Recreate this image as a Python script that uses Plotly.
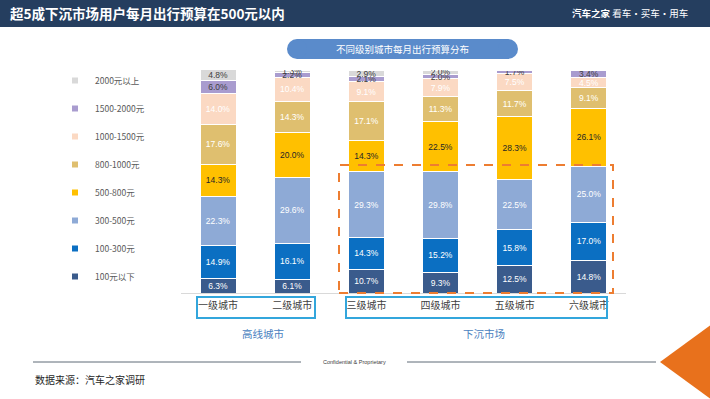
import plotly.graph_objects as go

cities = ["一级城市", "二级城市", "三级城市", "四级城市", "五级城市", "六级城市"]
series_names = ["100元以下", "100-300元", "300-500元", "500-800元",
                "800-1000元", "1000-1500元", "1500-2000元", "2000元以上"]
v_100 = [6.3, 6.1, 10.7, 9.3, 12.5, 14.8]
v_300 = [14.9, 16.1, 14.3, 15.2, 15.8, 17.0]
v_500 = [22.3, 29.6, 29.3, 29.8, 22.5, 25.0]
v_800 = [14.3, 20.0, 14.3, 22.5, 28.3, 26.1]
v_1000 = [17.6, 14.3, 17.1, 11.3, 11.7, 9.1]
v_1500 = [14.0, 10.4, 9.1, 7.9, 7.5, 4.5]
v_2000 = [6.0, 2.2, 2.1, 2.0, 1.7, 3.4]
v_over = [4.8, 1.3, 2.9, 2.0, 0.0, 0.0]
values = [v_100, v_300, v_500, v_800, v_1000, v_1500, v_2000, v_over]

colors = ["#3a5b8c", "#0b6fc2", "#8eaad6", "#ffc000",
          "#dfbf6f", "#fbd9c3", "#a99ccf", "#d9d9d9"]
text_colors = ["white", "white", "white", "#262626",
               "white", "white", "#404040", "#404040"]

# pixel geometry of plot area
L, R, T, B = 181, 626, 70, 293
W, H = R - L, B - T
def px(x):
    return (x - L) / W
def py(y):
    return (B - y) / H

fig = go.Figure()
for name, vals, c, tc in zip(series_names, values, colors, text_colors):
    fig.add_trace(go.Bar(
        x=cities, y=vals, name=name, marker=dict(color=c, line=dict(color="white", width=1)),
        text=[f"{v:.1f}%" for v in vals], textposition="inside", insidetextanchor="middle",
        textangle=0, constraintext="none",
        textfont=dict(color=tc, size=8.5, family="Liberation Sans"),
        showlegend=False, hoverinfo="skip"))
# legend entries (small squares), top entry = highest budget
for i in range(len(series_names) - 1, -1, -1):
    fig.add_trace(go.Scatter(
        x=[None], y=[None], mode="markers", name=series_names[i], legendgroup=f"g{i}",
        marker=dict(symbol="square", size=6, color=colors[i])))

shapes = []
# title bar
shapes.append(dict(type="rect", xref="paper", yref="paper", x0=px(0), x1=px(710),
                   y0=py(27), y1=py(0), fillcolor="#253e5f", line=dict(width=0), layer="below"))
# subtitle pill
shapes.append(dict(type="rect", xref="paper", yref="paper", x0=px(297), x1=px(508),
                   y0=py(59), y1=py(39), fillcolor="#5a8bcb", line=dict(width=0)))
for cx in (297, 508):
    shapes.append(dict(type="circle", xref="paper", yref="paper", x0=px(cx - 10), x1=px(cx + 10),
                       y0=py(59), y1=py(39), fillcolor="#5a8bcb", line=dict(width=0)))
# category boxes
for x0, x1 in ((197, 315), (346, 607)):
    shapes.append(dict(type="rect", xref="paper", yref="paper", x0=px(x0), x1=px(x1),
                       y0=py(318), y1=py(297), line=dict(color="#33a6dc", width=2)))
# dashed highlight
shapes.append(dict(type="rect", xref="paper", yref="paper", x0=px(339), x1=px(613),
                   y0=py(293), y1=py(165), line=dict(color="#ed7d31", width=2, dash="dash")))
# footer lines
for x0, x1 in ((33, 301), (407, 656)):
    shapes.append(dict(type="line", xref="paper", yref="paper", x0=px(x0), x1=px(x1),
                       y0=py(362), y1=py(362), line=dict(color="#5f6b77", width=1)))
# orange triangle
shapes.append(dict(type="path", xref="paper", yref="paper",
                   path=f"M {px(660)} {py(362)} L {px(712)} {py(324)} L {px(712)} {py(400)} Z",
                   fillcolor="#e8711c", line=dict(width=0)))

cjk = "Noto Sans CJK SC"
annotations = [
    dict(text="<b>超5成下沉市场用户每月出行预算在500元以内</b>", x=px(8), y=py(13),
         xanchor="left", yanchor="middle", font=dict(color="white", size=13.5, family=cjk)),
    dict(text="<b>汽车之家</b> 看车·买车·用车", x=px(690), y=py(13),
         xanchor="right", yanchor="middle", font=dict(color="white", size=9.5, family=cjk)),
    dict(text="不同级别城市每月出行预算分布", x=px(402), y=py(49),
         xanchor="center", yanchor="middle", font=dict(color="white", size=9.5, family=cjk)),
    dict(text="高线城市", x=px(263), y=py(333), xanchor="center", yanchor="middle",
         font=dict(color="#4a7fc0", size=10.5, family=cjk)),
    dict(text="下沉市场", x=px(484), y=py(333), xanchor="center", yanchor="middle",
         font=dict(color="#4a7fc0", size=10.5, family=cjk)),
    dict(text="Confidential & Proprietary", x=px(354), y=py(362), xanchor="center", yanchor="middle",
         font=dict(color="#404040", size=5.5, family="Liberation Sans Narrow, Liberation Sans")),
    dict(text="数据来源：汽车之家调研", x=px(33), y=py(379), xanchor="left", yanchor="middle",
         font=dict(color="#262626", size=10, family=cjk)),
]
for a in annotations:
    a.update(xref="paper", yref="paper", showarrow=False)

fig.update_layout(
    width=710, height=399, barmode="stack", bargap=0.515,
    margin=dict(l=L, r=710 - R, t=T, b=399 - B, autoexpand=False),
    paper_bgcolor="white", plot_bgcolor="white",
    uniformtext=dict(minsize=8.5, mode="show"),
    shapes=shapes, annotations=annotations,
    legend=dict(x=px(55), y=py(66), xanchor="left", yanchor="top", traceorder="grouped",
                tracegroupgap=9, font=dict(size=8.5, color="#595959", family=cjk),
                bgcolor="rgba(0,0,0,0)", itemwidth=30, maxheight=399),
    xaxis=dict(showline=True, linecolor="#d9d9d9", linewidth=1, showgrid=False, ticks="",
               ticklabelstandoff=3,
               tickfont=dict(size=10, color="#404040", family=cjk), fixedrange=True),
    yaxis=dict(range=[0, 100], visible=False, showgrid=False, fixedrange=True),
)
fig.write_html("out.html", config={"displayModeBar": False},
               post_script="document.body.style.margin='0';document.body.style.overflow='hidden';")
